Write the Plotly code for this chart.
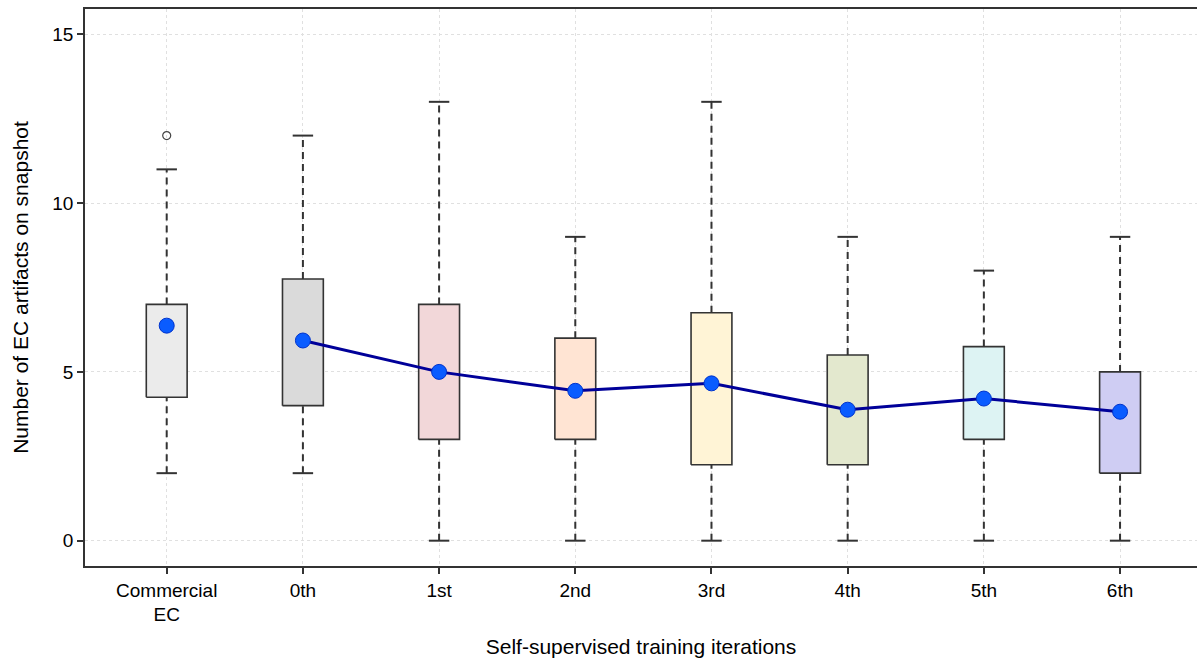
import plotly.graph_objects as go

# Summary statistics per training stage
categories = ["Commercial<br>EC", "0th", "1st", "2nd", "3rd", "4th", "5th", "6th"]
q1 = [4.25, 4.0, 3.0, 3.0, 2.25, 2.25, 3.0, 2.0]
q3 = [7.0, 7.75, 7.0, 6.0, 6.75, 5.5, 5.75, 5.0]
whisker_low = [2, 2, 0, 0, 0, 0, 0, 0]
whisker_high = [11, 12, 13, 9, 13, 9, 8, 9]
means = [6.37, 5.93, 5.0, 4.44, 4.66, 3.88, 4.21, 3.82]
outlier_cat = [0]
outlier_val = [12]
box_colors = ["#EBEBEB", "#DADADA", "#F2D7D9", "#FFE4D3",
              "#FFF4D6", "#E3E8CE", "#DDF3F3", "#CFCDF3"]

BOX_HALF = 0.15
CAP_HALF = 0.075
EDGE = "#333333"

fig = go.Figure()

for i, cat in enumerate(categories):
    # whiskers (dashed)
    fig.add_trace(go.Scatter(
        x=[i, i, None, i, i],
        y=[whisker_low[i], q1[i], None, q3[i], whisker_high[i]],
        mode="lines", line=dict(color=EDGE, width=2, dash="7px,5px"),
        hoverinfo="skip", showlegend=False))
    # caps
    fig.add_trace(go.Scatter(
        x=[i - CAP_HALF, i + CAP_HALF, None, i - CAP_HALF, i + CAP_HALF],
        y=[whisker_low[i], whisker_low[i], None, whisker_high[i], whisker_high[i]],
        mode="lines", line=dict(color=EDGE, width=2),
        hoverinfo="skip", showlegend=False))
    # box
    fig.add_trace(go.Scatter(
        x=[i - BOX_HALF, i + BOX_HALF, i + BOX_HALF, i - BOX_HALF, i - BOX_HALF],
        y=[q1[i], q1[i], q3[i], q3[i], q1[i]],
        mode="lines", fill="toself", fillcolor=box_colors[i],
        line=dict(color=EDGE, width=1.6),
        hoverinfo="skip", showlegend=False))

# outliers
fig.add_trace(go.Scatter(
    x=outlier_cat, y=outlier_val, mode="markers",
    marker=dict(symbol="circle-open", size=8, color="#444444", line=dict(width=1.2)),
    showlegend=False))

# trend of means across self-supervised iterations
fig.add_trace(go.Scatter(
    x=list(range(1, len(categories))), y=means[1:], mode="lines",
    line=dict(color="#000099", width=3), showlegend=False))

# means
fig.add_trace(go.Scatter(
    x=list(range(len(categories))), y=means, mode="markers",
    marker=dict(size=15, color="#0A5CFF", line=dict(color="#0033CC", width=1)),
    showlegend=False))

font_family = "Liberation Sans, Arial, sans-serif"

fig.update_layout(
    width=1197, height=658,
    margin=dict(l=85, r=0, t=9, b=92),
    paper_bgcolor="white", plot_bgcolor="white",
    font=dict(family=font_family, size=19, color="#000000"),
    xaxis=dict(
        range=[-0.6, 7.565],
        tickmode="array", tickvals=list(range(len(categories))), ticktext=categories,
        showgrid=True, gridcolor="#E0E0E0", griddash="dot", gridwidth=1,
        showline=True, linecolor="#333333", linewidth=1.5, mirror=True,
        ticks="outside", ticklen=6, tickcolor="#333333", tickwidth=1.5,
        zeroline=False,
        tickfont=dict(size=19, color="#000000"),
        title=dict(text="Self-supervised training iterations", font=dict(size=21), standoff=16),
    ),
    yaxis=dict(
        range=[-0.75, 15.75],
        tickvals=[0, 5, 10, 15],
        showgrid=True, gridcolor="#E0E0E0", griddash="dot", gridwidth=1,
        showline=True, linecolor="#333333", linewidth=1.5,
        ticks="outside", ticklen=6, tickcolor="#333333", tickwidth=1.5,
        zeroline=False,
        tickfont=dict(size=19, color="#000000"),
        title=dict(text="Number of EC artifacts on snapshot", font=dict(size=21), standoff=18),
    ),
)

fig.write_html("out.html")
